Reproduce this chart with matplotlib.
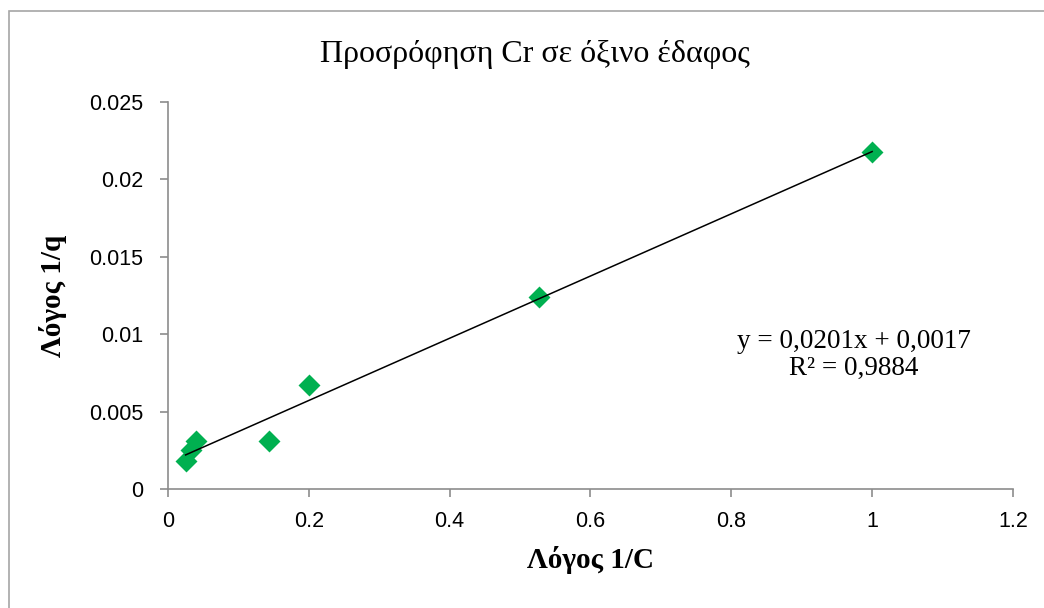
import numpy as np
import matplotlib.pyplot as plt
from matplotlib.patches import Rectangle

# 1/C and 1/q values
inv_c = [0.025, 0.0333, 0.04, 0.143, 0.2, 0.527, 1.0]
inv_q = [0.0018, 0.0025, 0.0031, 0.0031, 0.0067, 0.0124, 0.0218]

slope = 0.0201
intercept = 0.0017
r2 = 0.9884

xticks = [0, 0.2, 0.4, 0.6, 0.8, 1, 1.2]
yticks = [0, 0.005, 0.01, 0.015, 0.02, 0.025]

serif = "Liberation Serif"
sans = "Liberation Sans"

fig = plt.figure(figsize=(10.44, 6.08), dpi=100)
ax = fig.add_axes([0.1609, 0.1957, 0.8094, 0.6365])

# outer chart frame
fig.patches.append(Rectangle((9 / 1044, -0.1), 1.2, 1.1 - 11 / 608,
                             transform=fig.transFigure, fill=False,
                             edgecolor="#a6a6a6", lw=1.2))

x = np.array(inv_c)
xl = np.array([x.min(), x.max()])
ax.plot(xl, slope * xl + intercept, "-k", lw=1.1, zorder=3)
ax.scatter(inv_c, inv_q, marker="D", s=125, color="#00b050", zorder=2,
           linewidths=0)

ax.set_xlim(0, 1.2)
ax.set_ylim(0, 0.025)
ax.set_xticks(xticks)
ax.set_xticklabels([("%g" % v) for v in xticks])
ax.set_yticks(yticks)
ax.set_yticklabels([("%g" % v) for v in yticks])

for s in ["top", "right"]:
    ax.spines[s].set_visible(False)
for s in ["left", "bottom"]:
    ax.spines[s].set_color("#8c8c8c")
    ax.spines[s].set_linewidth(1.2)
ax.tick_params(colors="#8c8c8c", length=6, width=1.2, labelcolor="black",
               labelsize=15.5)
for lbl in ax.get_xticklabels() + ax.get_yticklabels():
    lbl.set_family(sans)
ax.tick_params(axis="x", pad=10)
ax.tick_params(axis="y", pad=12)

ax.set_xlabel("Λόγος 1/C", family=serif, fontweight="bold", fontsize=21,
              labelpad=10)
ax.set_ylabel("Λόγος 1/q", family=serif, fontweight="bold", fontsize=21,
              labelpad=16)
fig.text(0.512, 0.91, "Προσρόφηση Cr σε όξινο έδαφος", family=serif,
         fontsize=23, ha="center", va="center")

ax.text(0.812, 0.347, "y = 0,0201x + 0,0017\nR² = %s" % str(r2).replace(".", ","),
        transform=ax.transAxes, family=serif, fontsize=19.5, ha="center",
        va="center", linespacing=1.12)

fig.savefig("out.png", dpi=100)
